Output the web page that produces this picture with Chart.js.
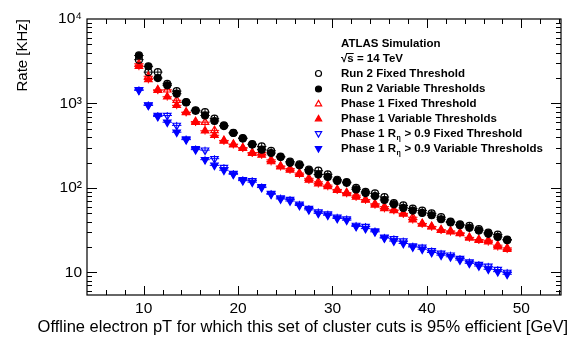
<!DOCTYPE html>
<html>
<head>
<meta charset="utf-8">
<script src="https://cdn.jsdelivr.net/npm/chart.js@4/dist/chart.umd.min.js"></script>
<style>
  html, body { margin: 0; padding: 0; background: #fff; }
  #wrap { width: 571px; height: 338px; }
</style>
</head>
<body>
<div id="wrap"><canvas id="rate-chart" width="571" height="338"></canvas></div>
<script>
'use strict';

// offline pT bins (GeV)
var ptBins = [9.5, 10.5, 11.5, 12.5, 13.5, 14.5, 15.5, 16.5, 17.5, 18.5,
    19.5, 20.5, 21.5, 22.5, 23.5, 24.5, 25.5, 26.5, 27.5, 28.5,
    29.5, 30.5, 31.5, 32.5, 33.5, 34.5, 35.5, 36.5, 37.5, 38.5,
    39.5, 40.5, 41.5, 42.5, 43.5, 44.5, 45.5, 46.5, 47.5, 48.5];

// rates in kHz
var run2Fixed = [3300, 2350, 2350, 1710, 1400, 1040, 830, 790, 660, 550,
    450, 390, 330, 310, 275, 235, 205, 190, 165, 160,
    145, 125, 117, 100, 90, 86, 78, 66, 62, 57,
    54, 50, 45, 40, 37, 35.5, 32.5, 29.5, 28, 24.5];
var run2Var = [3700, 2750, 2000, 1640, 1305, 1030, 820, 720, 620, 540,
    447, 384, 326, 284, 259, 232, 198, 185, 159, 144,
    135, 121, 115, 96, 87, 80, 72, 64, 58, 54,
    50.6, 47.5, 42.6, 39, 36.2, 33.7, 31.3, 28.6, 26.3, 24.1];
var p1Fixed = [2950, 2100, 1450, 1450, 1090, 790, 610, 600, 480, 365,
    330, 300, 262, 262, 215, 182, 170, 150, 130, 118,
    108, 96, 88, 82, 73, 65, 60, 55, 50, 45,
    38, 35, 32, 31, 29.5, 26, 24.5, 24, 21, 19.5];
var p1Var = [2750, 1920, 1430, 1200, 950, 780, 600, 475, 420, 360,
    325, 295, 258, 245, 205, 178, 163, 145, 124, 112,
    104, 94, 86, 78, 72, 63, 57, 54, 49, 42,
    37.5, 34.6, 31.6, 30.2, 28.9, 25.6, 24.1, 23, 20.1, 18.8];
var rEtaFixed = [1450, 960, 720, 720, 550, 380, 290, 280, 222, 174,
    148, 125, 122, 103, 86, 76, 73, 64, 57, 52,
    49, 45, 43, 36, 35, 31, 26, 25, 23.5, 20.5,
    19.8, 18, 16.8, 16, 14.6, 13.3, 12.4, 11.8, 10.8, 10];
var rEtaVar = [1430, 950, 700, 600, 457, 373, 284, 216, 185, 162,
    145, 122, 117, 101, 84, 74, 70, 62, 55, 50,
    47.5, 43.5, 41.5, 35, 33, 30.2, 25.5, 23.5, 22, 20,
    18.8, 17.2, 16, 15.3, 14, 12.8, 11.9, 10.9, 10.2, 9.5];

var xMajor = [10, 20, 30, 40, 50];
var yMajor = [10, 100, 1000, 10000];
var yLabels = ['10', '10\u00B2', '10\u00B3', '10\u2074'];
var xTitle = 'Offline electron pT for which this set of cluster cuts is 95% efficient [GeV]';

var FONT = '"Liberation Sans", Arial, Helvetica, sans-serif';
var legendRows = [73.5, 89, 104, 119, 133.5, 148.5];

function toPoints(vals) {
    return vals.map(function (v, i) { return {x: ptBins[i], y: v}; });
}

function series(label, vals, color, style, filled, rot) {
    var r = style === 'circle' ? 3.5 : 4.3;
    return {
        label: label,
        data: toPoints(vals),
        showLine: false,
        pointStyle: style,
        rotation: rot || 0,
        pointRadius: r,
        pointHoverRadius: r,
        pointBorderWidth: 1.2,
        borderColor: color,
        backgroundColor: filled ? color : 'rgba(0,0,0,0)',
        pointBackgroundColor: filled ? color : 'rgba(0,0,0,0)',
        pointBorderColor: color
    };
}

var datasets = [
    series('Run 2 Fixed Threshold', run2Fixed, '#000', 'circle', false),
    series('Run 2 Variable Thresholds', run2Var, '#000', 'circle', true),
    series('Phase 1 Fixed Threshold', p1Fixed, '#ff0000', 'triangle', false),
    series('Phase 1 Variable Thresholds', p1Var, '#ff0000', 'triangle', true),
    series('Phase 1 R\u03B7 > 0.9 Fixed Threshold', rEtaFixed, '#0000ff', 'triangle', false, 180),
    series('Phase 1 R\u03B7 > 0.9 Variable Thresholds', rEtaVar, '#0000ff', 'triangle', true, 180)
];

// small error bars under the markers
var errorBars = {
    id: 'errorBars',
    beforeDatasetsDraw: function (chart) {
        var ctx = chart.ctx, xs = chart.scales.x, ys = chart.scales.y;
        ctx.save();
        ctx.lineWidth = 1;
        chart.data.datasets.forEach(function (ds) {
            ctx.strokeStyle = ds.borderColor;
            ds.data.forEach(function (p) {
                var px = xs.getPixelForValue(p.x), py = ys.getPixelForValue(p.y);
                ctx.beginPath();
                ctx.moveTo(xs.getPixelForValue(p.x - 0.5), py);
                ctx.lineTo(xs.getPixelForValue(p.x + 0.5), py);
                ctx.moveTo(px, ys.getPixelForValue(p.y * 0.9));
                ctx.lineTo(px, ys.getPixelForValue(p.y * 1.1));
                ctx.stroke();
            });
        });
        ctx.restore();
    }
};

// ROOT style frame, ticks pointing inwards on all four sides
var frame = {
    id: 'frame',
    afterDatasetsDraw: function (chart) {
        var ctx = chart.ctx, a = chart.chartArea,
            xs = chart.scales.x, ys = chart.scales.y, i, d, v, px, py, len;
        ctx.save();
        ctx.strokeStyle = '#000';
        ctx.lineWidth = 1.2;
        ctx.strokeRect(a.left, a.top, a.right - a.left, a.bottom - a.top);
        ctx.lineWidth = 1;
        ctx.beginPath();
        for (v = 6; v <= 54; v += 2) {
            px = Math.round(xs.getPixelForValue(v)) + 0.5;
            len = (v % 10 === 0) ? 9 : 5;
            ctx.moveTo(px, a.bottom); ctx.lineTo(px, a.bottom - len);
            ctx.moveTo(px, a.top); ctx.lineTo(px, a.top + len);
        }
        for (d = 1; d <= 1000; d *= 10) {
            for (i = 1; i <= 9; i++) {
                v = d * i;
                if (v < ys.min || v > ys.max) continue;
                py = Math.round(ys.getPixelForValue(v)) + 0.5;
                len = (i === 1) ? 10 : 5;
                ctx.moveTo(a.left, py); ctx.lineTo(a.left + len, py);
                ctx.moveTo(a.right, py); ctx.lineTo(a.right - len, py);
            }
        }
        ctx.stroke();
        ctx.restore();
    }
};

// x title: ROOT puts it right aligned and a bit wider than the frame
var xAxisTitle = {
    id: 'xAxisTitle',
    afterDraw: function (chart) {
        var c = chart.ctx, w, right = 568;
        c.save();
        c.fillStyle = '#000';
        c.textBaseline = 'middle';
        c.textAlign = 'right';
        c.font = '16.5px ' + FONT;
        w = c.measureText(xTitle).width;
        c.letterSpacing = Math.max(0, (530 - w) / (xTitle.length - 1)).toFixed(2) + 'px';
        c.fillText(xTitle, right, 327);
        c.restore();
    }
};

// legend markers, same styles as the datasets
var legendMarkers = {
    id: 'legendMarkers',
    afterDraw: function (chart) {
        var c = chart.ctx;
        c.save();
        chart.data.datasets.forEach(function (ds, k) {
            c.fillStyle = ds.pointBackgroundColor;
            c.strokeStyle = ds.pointBorderColor;
            c.lineWidth = 1.2;
            Chart.helpers.drawPoint(c, {
                pointStyle: ds.pointStyle,
                rotation: ds.rotation,
                radius: ds.pointStyle === 'circle' ? 3 : 3.6,
                borderWidth: 1.2
            }, 318.5, legendRows[k]);
        });
        c.restore();
    }
};

// ATLAS label and legend texts
var atlasLegend = {
    id: 'atlasLegend',
    afterDraw: function (chart) {
        var c = chart.ctx, tx = 341;
        c.save();
        c.fillStyle = '#000';
        c.strokeStyle = '#000';
        c.textBaseline = 'middle';
        c.font = 'bold 11.5px ' + FONT;
        c.fillText('ATLAS Simulation', tx, 44);
        c.fillText('\u221As = 14 TeV', tx, 59);
        var sqW = c.measureText('\u221A').width, sW = c.measureText('s').width;
        c.lineWidth = 1;
        c.beginPath();
        c.moveTo(tx + sqW - 1, 53.5);
        c.lineTo(tx + sqW + sW, 53.5);
        c.stroke();
        ['Run 2 Fixed Threshold', 'Run 2 Variable Thresholds',
            'Phase 1 Fixed Threshold', 'Phase 1 Variable Thresholds'].forEach(function (t, k) {
            c.fillText(t, tx, legendRows[k]);
        });
        ['Fixed Threshold', 'Variable Thresholds'].forEach(function (t, k) {
            var y = legendRows[4 + k], x = tx;
            c.font = 'bold 11.5px ' + FONT;
            c.fillText('Phase 1 R', x, y);
            x += c.measureText('Phase 1 R').width;
            c.font = 'bold 7px ' + FONT;
            c.fillText('\u03B7', x + 0.5, y + 5);
            x += c.measureText('\u03B7').width + 1;
            c.font = 'bold 11.5px ' + FONT;
            c.fillText(' > 0.9 ' + t, x, y);
        });
        c.restore();
    }
};

var ctx = document.getElementById('rate-chart').getContext('2d');

new Chart(ctx, {
    type: 'scatter',
    data: {datasets: datasets},
    options: {
        responsive: false,
        animation: false,
        events: [],
        layout: {padding: {top: 19, right: 10, left: 0, bottom: 0}},
        plugins: {legend: {display: false}, tooltip: {enabled: false}},
        scales: {
            x: {
                type: 'linear',
                min: 4,
                max: 54.2,
                afterBuildTicks: function (scale) {
                    scale.ticks = xMajor.map(function (v) { return {value: v}; });
                },
                afterFit: function (scale) { scale.height = 43; },
                grid: {display: false, drawTicks: false},
                border: {display: false},
                ticks: {
                    color: '#000',
                    padding: 4,
                    maxRotation: 0,
                    font: {family: FONT, size: 15.5},
                    callback: function (v) { return String(v); }
                },
                title: {display: false}
            },
            y: {
                type: 'logarithmic',
                min: 5.4,
                max: 10000,
                afterBuildTicks: function (scale) {
                    scale.ticks = yMajor.map(function (v) { return {value: v}; });
                },
                afterFit: function (scale) { scale.width = 87; },
                grid: {display: false, drawTicks: false},
                border: {display: false},
                ticks: {
                    color: '#000',
                    padding: 5,
                    font: {family: FONT, size: 15.5},
                    callback: function (v) { return yLabels[yMajor.indexOf(v)]; }
                },
                title: {
                    display: true,
                    text: 'Rate [KHz]',
                    align: 'end',
                    color: '#000',
                    font: {family: FONT, size: 15},
                    padding: {top: 14, bottom: 0}
                }
            }
        }
    },
    plugins: [errorBars, frame, legendMarkers, atlasLegend, xAxisTitle]
});
</script>
</body>
</html>
